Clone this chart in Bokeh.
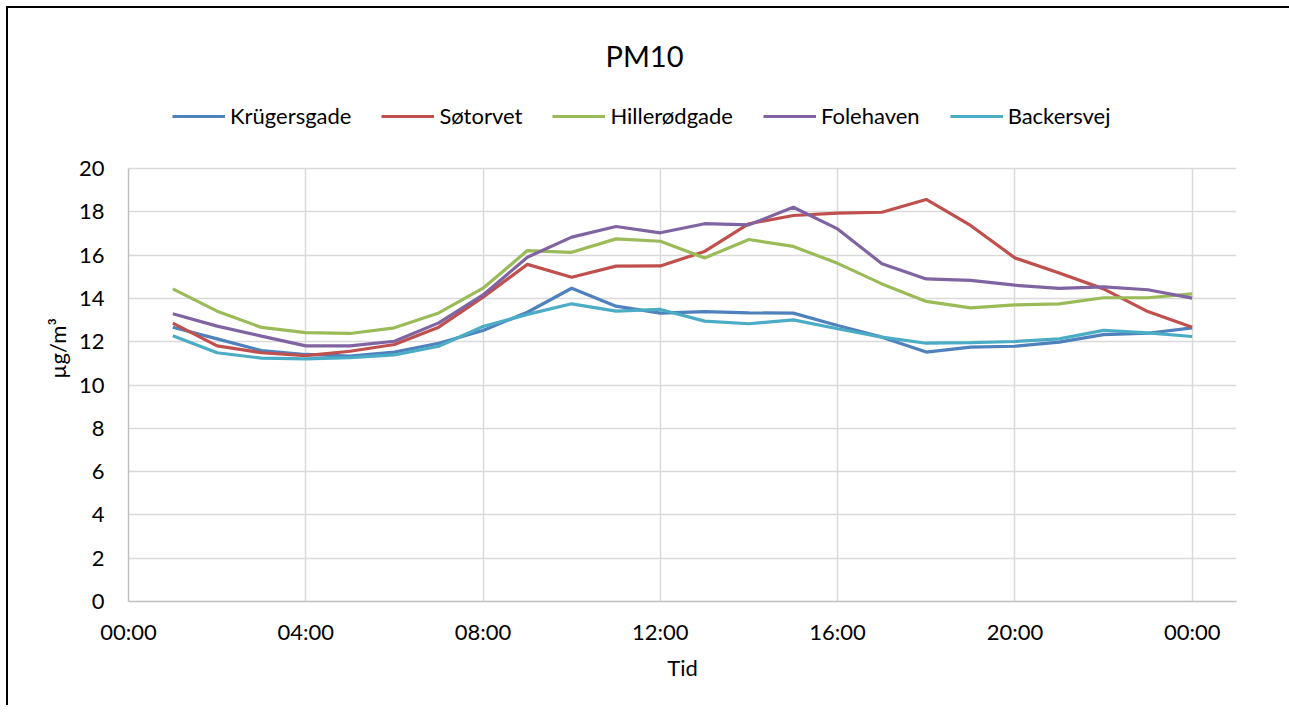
from bokeh.plotting import figure
from bokeh.models import Range1d, FixedTicker, Legend, LegendItem, Title
from bokeh.embed import file_html
from bokeh.resources import INLINE

hours = list(range(1, 25))
krugersgade = [12.67, 12.13, 11.59, 11.41, 11.33, 11.52, 11.93, 12.52, 13.36, 14.47, 13.64, 13.32,
               13.39, 13.33, 13.32, 12.75, 12.21, 11.52, 11.75, 11.79, 11.98, 12.33, 12.39, 12.64]
sotorvet = [12.86, 11.81, 11.49, 11.36, 11.56, 11.87, 12.67, 14.06, 15.57, 14.98, 15.49, 15.50,
            16.17, 17.45, 17.83, 17.94, 17.98, 18.57, 17.37, 15.87, 15.17, 14.44, 13.39, 12.67]
hillerodgade = [14.44, 13.41, 12.66, 12.42, 12.38, 12.64, 13.33, 14.47, 16.21, 16.13, 16.75, 16.64,
                15.87, 16.72, 16.40, 15.62, 14.67, 13.86, 13.56, 13.70, 13.75, 14.03, 14.03, 14.21]
folehaven = [13.29, 12.72, 12.26, 11.81, 11.81, 12.02, 12.87, 14.16, 15.90, 16.83, 17.32, 17.03,
             17.45, 17.40, 18.21, 17.21, 15.60, 14.90, 14.83, 14.61, 14.46, 14.53, 14.40, 14.01]
backersvej = [12.27, 11.49, 11.24, 11.21, 11.26, 11.39, 11.79, 12.70, 13.26, 13.75, 13.41, 13.49,
              12.95, 12.83, 13.01, 12.60, 12.21, 11.93, 11.96, 12.01, 12.13, 12.52, 12.41, 12.24]

series_names = ["Krügersgade", "Søtorvet", "Hillerødgade", "Folehaven", "Backersvej"]
series_values = [krugersgade, sotorvet, hillerodgade, folehaven, backersvej]
colors = ["#4F81BD", "#C0504D", "#9BBB59", "#8064A2", "#4BACC6"]

x_ticks = [0, 4, 8, 12, 16, 20, 24]
x_tick_labels = ["00:00", "04:00", "08:00", "12:00", "16:00", "20:00", "00:00"]
y_ticks = [0, 2, 4, 6, 8, 10, 12, 14, 16, 18, 20]
y_axis_max = 20

FONT = "Lato"

# frame extends above the value axis maximum to host the legend
FRAME_H = 506
PX_PER_UNIT = 21.65
y_top = y_axis_max + (FRAME_H - y_axis_max * PX_PER_UNIT) / PX_PER_UNIT

p = figure(frame_width=1108, frame_height=FRAME_H, output_backend="svg", toolbar_location=None,
           x_range=Range1d(0, 25), y_range=Range1d(0, y_top),
           min_border_left=120, min_border_right=53, min_border_top=87, min_border_bottom=104)
p.styles = {"margin-left": "6px", "margin-top": "6px",
            "border-left": "2px solid black", "border-top": "2px solid black"}
p.outline_line_color = None
p.background_fill_color = "white"
p.border_fill_color = "white"

renderers = []
for name, vals, c in zip(series_names, series_values, colors):
    r = p.line(hours, vals, line_color=c, line_width=3.2)
    renderers.append((name, r))

p.xaxis.ticker = FixedTicker(ticks=x_ticks)
p.xaxis.major_label_overrides = {t: l for t, l in zip(x_ticks, x_tick_labels)}
p.yaxis.ticker = FixedTicker(ticks=y_ticks)
p.yaxis.bounds = (0, y_axis_max)
for ax in (p.xaxis, p.yaxis):
    ax.axis_line_color = "#BFBFBF"
    ax.axis_line_width = 1.5
    ax.major_tick_line_color = None
    ax.minor_tick_line_color = None
    ax.major_label_text_font = FONT
    ax.major_label_text_font_size = "22px"
    ax.major_label_text_color = "#000000"
    ax.axis_label_text_font = FONT
    ax.axis_label_text_font_size = "22px"
    ax.axis_label_text_font_style = "normal"
    ax.axis_label_text_color = "#000000"
p.xaxis.major_label_standoff = 10
p.yaxis.major_label_standoff = 18
p.xaxis.axis_label = "Tid"
p.yaxis.axis_label = "µg/m³"
p.xaxis.axis_label_standoff = 6
p.yaxis.axis_label_standoff = 5

p.xgrid.ticker = FixedTicker(ticks=x_ticks)
p.ygrid.ticker = FixedTicker(ticks=y_ticks)
for g in p.xgrid:
    if "cross_bounds" in g.properties():
        g.cross_bounds = (0, y_axis_max)
p.grid.grid_line_color = "#D9D9D9"
p.grid.grid_line_width = 1.5

p.title = Title(text="PM10", align="left", offset=477, text_font=FONT,
                text_font_size="29px", text_font_style="normal", text_color="#000000")
p.title.standoff = 45

legend = Legend(items=[LegendItem(label=n, renderers=[r]) for n, r in renderers],
                orientation="horizontal", location=(44, 472),
                glyph_width=53, glyph_height=20, label_standoff=5, spacing=30,
                padding=0, margin=0, border_line_color=None, background_fill_alpha=0,
                label_text_font=FONT, label_text_font_size="22px", label_text_color="#000000")
p.add_layout(legend, "center")

open("out.html", "w").write(file_html(p, INLINE))
